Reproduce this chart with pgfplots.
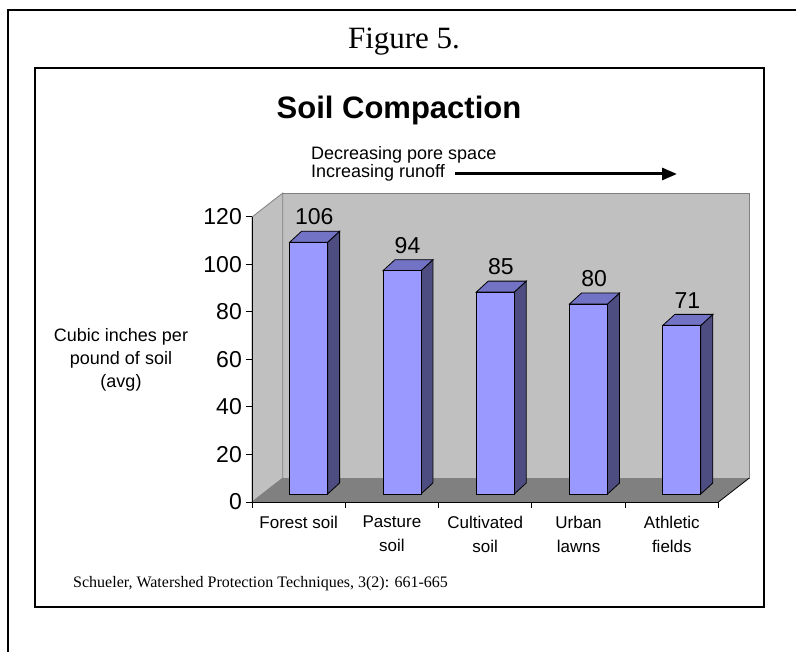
\documentclass[border=0pt]{standalone}
\usepackage{fontspec}
\setmainfont{Liberation Sans}
\newfontfamily\timesfont{Liberation Serif}
\usepackage{pgfplots}
\pgfplotsset{compat=1.18}
\usepackage{pgfplotstable}
\usetikzlibrary{arrows.meta}
\definecolor{wall}{HTML}{C0C0C0}
\definecolor{walledge}{HTML}{808080}
\definecolor{floorc}{HTML}{808080}
\definecolor{barfront}{HTML}{9999FF}
\definecolor{bartop}{HTML}{7373C6}
\definecolor{barside}{HTML}{4D4D82}

\pgfplotstableread{
x v
0 106
1 94
2 85
3 80
4 71
}\soildata

\begin{document}
\begin{tikzpicture}[x=1pt,y=1pt]
\useasboundingbox (0,0) rectangle (796,-652);
\draw[line width=2pt] (8,-652) -- (8,-10) -- (796,-10);
\draw[line width=1.5pt] (35,-68) rectangle (764,-607);
\node[font=\timesfont\fontsize{31}{36}\selectfont, anchor=base, inner sep=0pt] at (404,-49) {Figure 5.};
\node[font=\bfseries\fontsize{31}{36}\selectfont, anchor=base, inner sep=0pt] at (399,-119) {Soil Compaction};
\node[font=\fontsize{18}{22}\selectfont, anchor=base west, inner sep=0pt] at (311,-160) {Decreasing pore space};
\node[font=\fontsize{18}{22}\selectfont, anchor=base west, inner sep=0pt] at (311,-178) {Increasing runoff};
\draw[line width=3pt, -{Triangle[length=15pt,width=12pt]}] (455,-174) -- (677,-174);
\node[font=\fontsize{18}{22}\selectfont, anchor=base, inner sep=0pt] at (121,-342) {Cubic inches per};
\node[font=\fontsize{18}{22}\selectfont, anchor=base, inner sep=0pt] at (121,-365) {pound of soil};
\node[font=\fontsize{18}{22}\selectfont, anchor=base, inner sep=0pt] at (121,-388) {(avg)};
\node[font=\timesfont\fontsize{16}{19}\selectfont, anchor=base west, inner sep=0pt] at (73,-587) {Schueler, Watershed Protection Techniques, 3(2): 661-665};

\begin{axis}[
  at={(252pt,-502pt)}, anchor=south west,
  scale only axis, x=93.3pt, y=2.375pt,
  xmin=-0.5, xmax=4.5, ymin=0, ymax=120,
  clip=false, axis on top,
  axis x line=bottom, axis y line=left,
  axis line style={-, line width=1pt, black},
  xtick={-0.5,0.5,1.5,2.5,3.5,4.5},
  x tick label as interval,
  xticklabels={Forest soil,{Pasture\\soil},{Cultivated\\soil},{Urban\\lawns},{Athletic\\fields}},
  ytick={0,20,...,120},
  tick align=outside, major tick length=6pt,
  tick style={black, line width=1pt},
  xticklabel style={font=\fontsize{17}{24}\selectfont, align=center, anchor=north, inner sep=0pt, yshift=-8pt},
  yticklabel style={font=\fontsize{23}{27}\selectfont, anchor=east, inner sep=0pt, xshift=-4pt},
  /pgf/number format/assume math mode=true,
]
% back wall, side wall, floor
\addplot[fill=wall, draw=walledge, line width=0.8pt] coordinates {(-0.17,10.1) (4.83,10.1) (4.83,130.1) (-0.17,130.1)} -- cycle;
\addplot[fill=wall, draw=walledge, line width=0.8pt] coordinates {(-0.5,0) (-0.17,10.1) (-0.17,130.1) (-0.5,120)} -- cycle;
\addplot[fill=floorc, draw=none] coordinates {(-0.5,0) (4.5,0) (4.83,10.1) (-0.17,10.1)} -- cycle;
\addplot[draw=black, line width=0.8pt] coordinates {(4.5,0) (4.83,10.1)};
% 3D bars
\pgfplotsforeachungrouped \i in {0,1,2,3,4}{%
  \pgfplotstablegetelem{\i}{v}\of\soildata
  \pgfmathsetmacro\xa{\i+0.107-0.2036}
  \pgfmathsetmacro\xb{\i+0.107+0.2036}
  \pgfmathsetmacro\xc{\xa+0.1286}
  \pgfmathsetmacro\xd{\xb+0.1286}
  \pgfmathsetmacro\yt{3.37+\pgfplotsretval}
  \pgfmathsetmacro\ytt{\yt+4.63}
  \pgfmathsetmacro\ybb{3.37+4.63}
  \edef\temp{%
    \noexpand\addplot[fill=barside, draw=black, line width=0.8pt] coordinates {(\xb,3.37) (\xd,\ybb) (\xd,\ytt) (\xb,\yt)} -- cycle;
    \noexpand\addplot[fill=bartop, draw=black, line width=0.8pt] coordinates {(\xa,\yt) (\xb,\yt) (\xd,\ytt) (\xc,\ytt)} -- cycle;
    \noexpand\addplot[fill=barfront, draw=black, line width=0.8pt] coordinates {(\xa,3.37) (\xb,3.37) (\xb,\yt) (\xa,\yt)} -- cycle;
  }\temp
}
% value labels
\addplot[draw=none, nodes near coords, point meta=explicit,
  nodes near coords align={center},
  every node near coord/.append style={font=\fontsize{23}{27}\selectfont, anchor=center, inner sep=0pt}]
  table[x expr=\thisrow{x}+0.167, y expr=\thisrow{v}+14, meta=v] {\soildata};
\end{axis}
\end{tikzpicture}
\end{document}
